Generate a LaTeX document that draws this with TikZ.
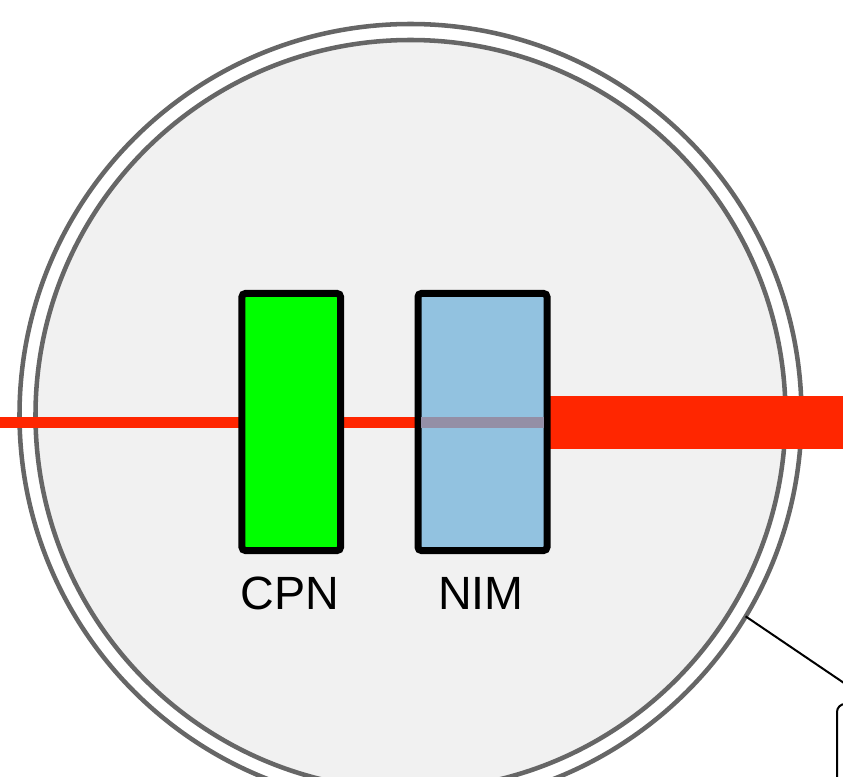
\documentclass[tikz,border=0pt]{standalone}
\usepackage{fontspec}
\setmainfont{Liberation Sans}
\definecolor{ringgray}{HTML}{666666}
\definecolor{lensfill}{HTML}{F1F1F1}
\definecolor{beamred}{HTML}{FF2600}
\definecolor{cpngreen}{HTML}{00FF00}
\definecolor{nimblue}{HTML}{92C2E0}
\definecolor{overlap}{HTML}{948FA6}
\tikzset{
  ring/.style={circle, draw=ringgray, line width=3.4pt, inner sep=0pt, outer sep=0pt},
  element/.style={draw=black, line width=5.25pt, rounded corners=2.5pt, inner sep=0pt, outer sep=0pt, minimum height=192.75pt},
  lbl/.style={font=\fontsize{35}{40}\selectfont, anchor=base, inner sep=0pt},
  beam/.style={fill=beamred, draw=none},
  callout/.style={draw=black, line width=1.5pt, rounded corners=6pt, inner sep=0pt, outer sep=0pt, minimum width=150pt, minimum height=150pt, anchor=north west}
}
\begin{document}
\begin{tikzpicture}[x=0.75pt,y=-0.75pt]
\useasboundingbox (0,0) rectangle (843,777);
\clip (0,0) rectangle (843,777);
% rings
\node[ring, fill=white, minimum size=586.5pt] (lens) at (410.5,415) {};
\node[ring, fill=lensfill, minimum size=562.5pt] (lensin) at (410.5,415) {};
% callout box and connector
\node[callout] (box) at (837,704) {};
\coordinate (bt) at (875,704);
\draw[line width=1.5pt] (lens.-31.8) -- (bt);
% beams
\fill[beam] (0,417) rectangle (420,428);
\fill[beam] (550,396) rectangle (843,449);
% elements
\node[element, fill=cpngreen, minimum width=73.9pt] (cpn) at (291.25,422) {};
\node[element, fill=nimblue, minimum width=96.75pt] (nim) at (482.5,422) {};
\fill[overlap] ([xshift=2.6pt]nim.west |- 0,417) rectangle ([xshift=-2.6pt]nim.east |- 0,428);
\node[lbl] (cpnl) at (290,609) {CPN};
\node[lbl] (niml) at (481,609) {NIM};
\end{tikzpicture}
\end{document}
